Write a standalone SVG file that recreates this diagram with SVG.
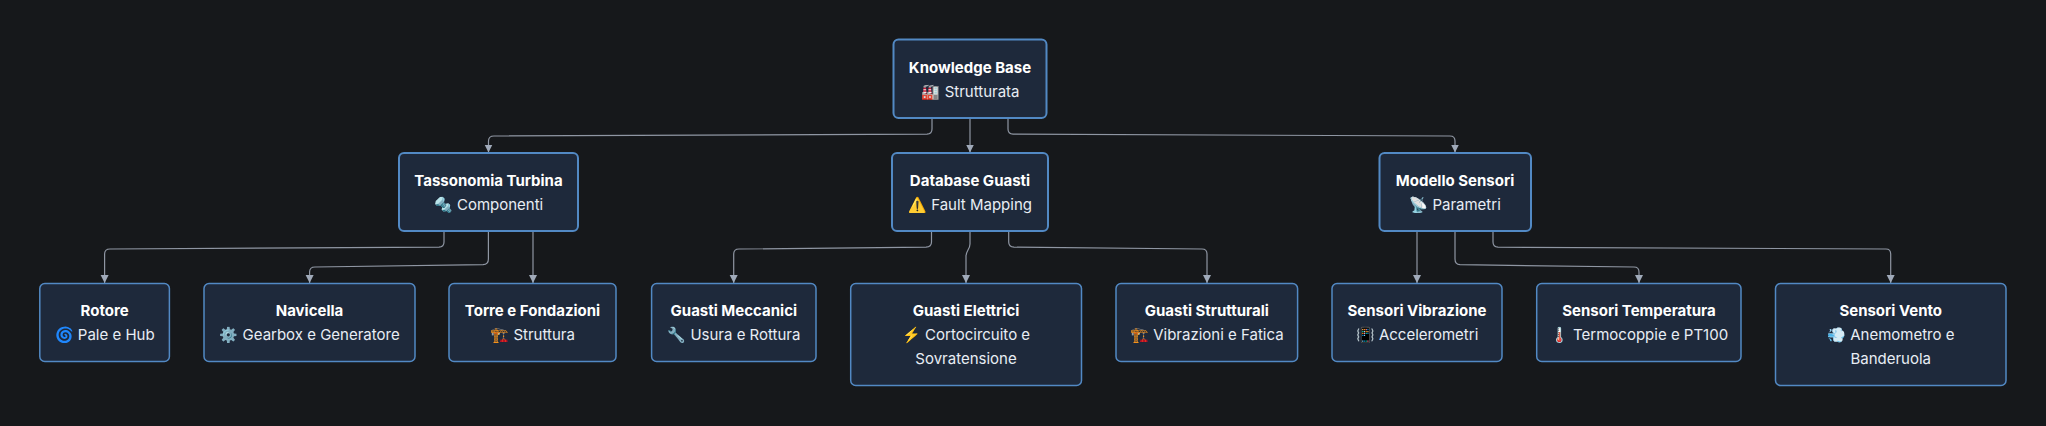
<svg xmlns="http://www.w3.org/2000/svg" width="2046" height="426" viewBox="0 0 2046 426">
<style>
text{font-family:"Inter","Liberation Sans","Noto Sans CJK SC",sans-serif;font-size:15px;text-anchor:middle;fill:#e8edf4}
.t{font-weight:700;fill:#fff}
.n{fill:#1e293b;stroke:#5289c4;stroke-width:2}
.l{fill:#1e293b;stroke:#5289c4;stroke-width:1.5}
.c{fill:none;stroke:#8f96a3;stroke-width:1.2;marker-end:url(#arrow)}
</style>
<defs><marker id="arrow" markerUnits="userSpaceOnUse" markerWidth="10" markerHeight="10" refX="8" refY="4" orient="auto"><path d="M0,0L8,4L0,8Z" fill="#a0aaba"/></marker></defs>
<rect width="2046" height="426" fill="#16181b"/>
<g id="connectors">
<path class="c" d="M932,118V129Q932,134 927,134.2L494,136Q488.5,136 488.5,141V152.5"/>
<path class="c" d="M970,118V152.5"/>
<path class="c" d="M1008,118V129Q1008,134 1013,134.2L1450,136Q1455,136 1455,141V152.5"/>
<path class="c" d="M444,231V242Q444,247 439,247.2L110,249Q104.6,249 104.6,254V283"/>
<path class="c" d="M488.4,231V259Q488.4,264.5 483,264.7L315,267Q309.6,267 309.6,272V283"/>
<path class="c" d="M533,231V283"/>
<path class="c" d="M931.5,231V242Q931.5,247 926,247.2L739,249Q733.7,249 733.7,254V283"/>
<path class="c" d="M970,231V244C970,249 966,251 966,256V283"/>
<path class="c" d="M1008.7,231V242Q1008.7,247 1014,247.2L1202,249Q1207,249 1207,254V283"/>
<path class="c" d="M1417,231V283"/>
<path class="c" d="M1455,231V259Q1455,264.5 1460,264.7L1634,267Q1639,267 1639,272V283"/>
<path class="c" d="M1493,231V242Q1493,247 1498,247.2L1886,249Q1890.7,249 1890.7,254V283"/>
</g>
<g id="root"><rect class="n" x="893.5" y="39.5" width="153" height="78.5" rx="5"/><text class="t" x="970" y="73">Knowledge Base</text><text x="970.5" y="97">🏭 Strutturata</text></g>
<g id="tassonomia"><rect class="n" x="399" y="153" width="179" height="78" rx="5"/><text class="t" x="488.5" y="186">Tassonomia Turbina</text><text x="488.5" y="210">🔩 Componenti</text></g>
<g id="database"><rect class="n" x="892" y="153" width="156" height="78" rx="5"/><text class="t" x="970" y="186">Database Guasti</text><text x="970" y="210">⚠️ Fault Mapping</text></g>
<g id="modello"><rect class="n" x="1379.5" y="153" width="151.5" height="78" rx="5"/><text class="t" x="1455" y="186">Modello Sensori</text><text x="1455" y="210">📡 Parametri</text></g>
<g id="rotore"><rect class="l" x="39.8" y="283.5" width="129.6" height="78" rx="5"/><text class="t" x="104.6" y="316">Rotore</text><text x="104.6" y="340">🌀 Pale e Hub</text></g>
<g id="navicella"><rect class="l" x="204" y="283.5" width="211" height="78" rx="5"/><text class="t" x="309.5" y="316">Navicella</text><text x="309.5" y="340">⚙️ Gearbox e Generatore</text></g>
<g id="torre"><rect class="l" x="449" y="283.5" width="167" height="78" rx="5"/><text class="t" x="532.5" y="316">Torre e Fondazioni</text><text x="532.5" y="340">🏗️ Struttura</text></g>
<g id="meccanici"><rect class="l" x="651.6" y="283.5" width="164.4" height="78" rx="5"/><text class="t" x="733.8" y="316">Guasti Meccanici</text><text x="733.8" y="340">🔧 Usura e Rottura</text></g>
<g id="elettrici"><rect class="l" x="850.7" y="283.5" width="230.8" height="102" rx="5"/><text class="t" x="966" y="316">Guasti Elettrici</text><text x="966" y="340">⚡ Cortocircuito e</text><text x="966" y="364">Sovratensione</text></g>
<g id="strutturali"><rect class="l" x="1116" y="283.5" width="181.6" height="78" rx="5"/><text class="t" x="1206.8" y="316">Guasti Strutturali</text><text x="1206.8" y="340">🏗️ Vibrazioni e Fatica</text></g>
<g id="vibrazione"><rect class="l" x="1332" y="283.5" width="170" height="78" rx="5"/><text class="t" x="1417" y="316">Sensori Vibrazione</text><text x="1417" y="340">📳 Accelerometri</text></g>
<g id="temperatura"><rect class="l" x="1536.7" y="283.5" width="204.3" height="78" rx="5"/><text class="t" x="1639" y="316">Sensori Temperatura</text><text x="1639" y="340">🌡️ Termocoppie e PT100</text></g>
<g id="vento"><rect class="l" x="1775.5" y="283.5" width="230.5" height="102" rx="5"/><text class="t" x="1890.7" y="316">Sensori Vento</text><text x="1890.7" y="340">💨 Anemometro e</text><text x="1890.7" y="364">Banderuola</text></g>
</svg>
